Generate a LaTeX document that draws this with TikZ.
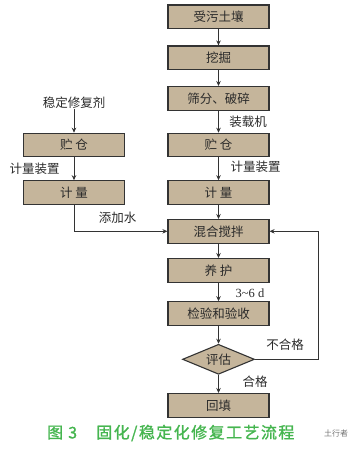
\documentclass[tikz,border=0pt]{standalone}
\usepackage{fontspec}
\setmainfont{Noto Sans CJK SC}
\newfontfamily\capfont{Noto Sans CJK SC}[FakeBold=1.2, LetterSpace=9]
\newfontfamily\latserif{Liberation Serif}
\usetikzlibrary{shapes.geometric,arrows.meta}
\definecolor{boxfill}{HTML}{C5B59B}
\definecolor{linec}{HTML}{333333}
\definecolor{capgreen}{HTML}{45B54F}
\definecolor{txt}{HTML}{2A2A2A}
\begin{document}
\begin{tikzpicture}[x=1pt,y=-1pt,
  procbox/.style={draw=linec, line width=1.1pt, fill=boxfill, minimum width=101pt, minimum height=23.5pt, inner sep=0pt, font=\fontsize{12.5}{14}\selectfont, text=txt},
  decbox/.style={diamond, draw=linec, line width=1.1pt, fill=boxfill, aspect=2.4, minimum width=72pt, minimum height=30pt, inner sep=0pt, font=\fontsize{12.5}{14}\selectfont, text=txt},
  lbl/.style={font=\fontsize{12.5}{14}\selectfont, inner sep=0pt, text=txt},
  conn/.style={draw=linec, line width=1pt, -{Stealth[length=5pt,width=4.5pt]}}]
\useasboundingbox (0,0) rectangle (358,450);
% right column
\node[procbox] (r1) at (218.5,16.7) {受污土壤};
\node[procbox] (r2) at (218.5,57.7) {挖掘};
\node[procbox] (r3) at (218.5,98.3) {筛分、破碎};
\node[procbox] (r4) at (218.5,145) {贮~仓};
\node[procbox] (r5) at (218.5,192.5) {计~量};
\node[procbox] (r6) at (218.5,231.3) {混合搅拌};
\node[procbox] (r7) at (218.5,270.3) {养~护};
\node[procbox] (r8) at (218.5,313.5) {检验和验收};
\node[decbox] (dia) at (218.5,359.3) {评估};
\node[procbox] (r9) at (218.5,405.3) {回填};
% left column
\node[lbl] (agent) at (74,103) {稳定修复剂};
\node[procbox] (l1) at (74,145) {贮~仓};
\node[procbox] (l2) at (74,192.5) {计~量};
% labels
\node[lbl] (zzj) at (248,122) {装载机};
\node[lbl] (jl1) at (34.5,169) {计量装置};
\node[lbl] (jl2) at (255.5,167) {计量装置};
\node[lbl] (tjs) at (117.5,218) {添加水};
\node[lbl, font=\latserif\fontsize{12.5}{14}\selectfont] (days) at (250,293) {3\textasciitilde6 d};
\node[lbl] (bhg) at (285,345) {不合格};
\node[lbl] (hg) at (255,382) {合格};
% connectors
\draw[conn] (r1) -- (r2);
\draw[conn] (r2) -- (r3);
\draw[conn] (r3) -- (r4);
\draw[conn] (r4) -- (r5);
\draw[conn] (r5) -- (r6);
\draw[conn] (r6) -- (r7);
\draw[conn] (r7) -- (r8);
\draw[conn] (r8) -- (dia);
\draw[conn] (dia) -- (r9);
\draw[conn] (agent) -- (l1);
\draw[conn] (l1) -- (l2);
\draw[conn] (l2.south) |- (r6.west);
\coordinate (fb) at (318,359.3);
\draw[conn] (dia.east) -- (fb) |- (r6.east);
% caption
\node[anchor=west, inner sep=0pt, text=capgreen, font=\fontsize{16}{17}\selectfont\capfont] (cap) at (47,433) {图~3\hspace{1.2em}固化/稳定化修复工艺流程};
\node[anchor=west, inner sep=0pt, text=black!55, font=\fontsize{8}{9}\selectfont] (wm) at (324,433) {土行者};
\end{tikzpicture}
\end{document}
